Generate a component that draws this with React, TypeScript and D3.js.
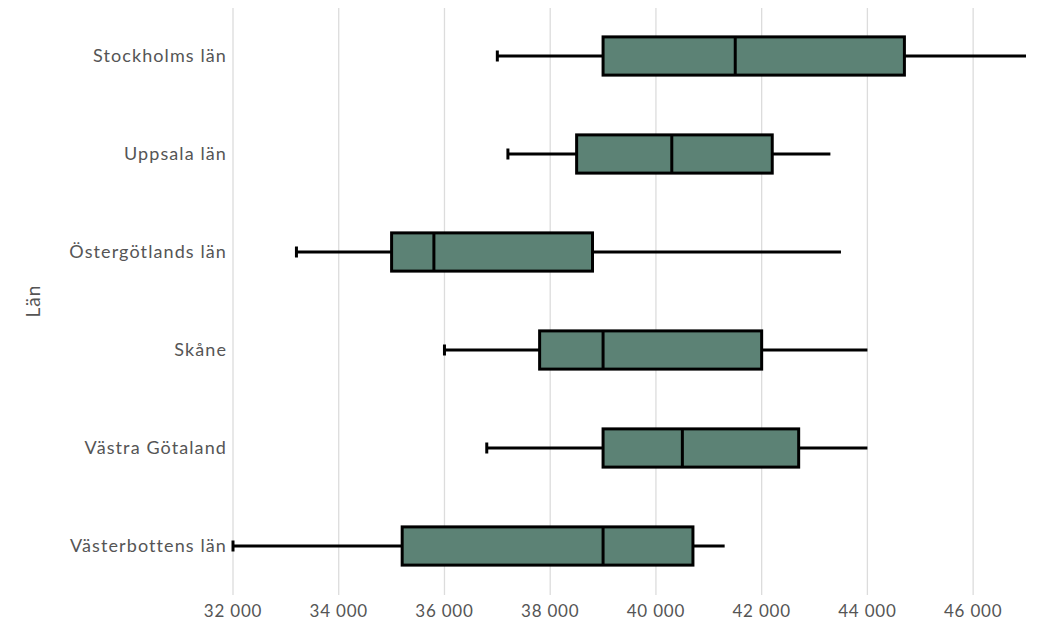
import React from "react";
import * as d3 from "d3";

const categories = ["Stockholms län", "Uppsala län", "Östergötlands län", "Skåne", "Västra Götaland", "Västerbottens län"];
const whiskerLow = [37000, 37200, 33200, 36000, 36800, 32000];
const q1 = [39000, 38500, 35000, 37800, 39000, 35200];
const median = [41500, 40300, 35800, 39000, 40500, 39000];
const q3 = [44700, 42200, 38800, 42000, 42700, 40700];
const whiskerHigh = [47000, 43300, 43500, 44000, 44000, 41300];
const xTicks = [32000, 34000, 36000, 38000, 40000, 42000, 44000, 46000];
const yTitle = "Län";

const W = 1046, H = 643;
const margin = { left: 233, right: 20, top: 7, bottom: 48 };
const FILL = "#5c8275";
const TEXT = "#555555";
const FONT = "Lato, 'Open Sans', sans-serif";

const locale = d3.formatLocale({ decimal: ",", thousands: " ", grouping: [3], currency: ["", ""] });
const fmt = locale.format(",d");

export default function App() {
  const x = d3.scaleLinear().domain([32000, 47000]).range([233, 1026]);
  const y = d3.scaleBand<string>().domain(categories).range([margin.top, H - margin.bottom]).paddingInner(0.61).paddingOuter(0.305);
  const bw = y.bandwidth();
  const gridBottom = 595;
  return (
    <svg width={W} height={H} style={{ position: "absolute", left: 0, top: 0, background: "#fff" }} fontFamily={FONT}>
      {xTicks.map((t) => (
        <g key={t}>
          <line x1={x(t)} x2={x(t)} y1={8} y2={gridBottom} stroke="#dcdcdc" strokeWidth={1.3} />
          <text x={x(t)} y={617} textAnchor="middle" fontSize={17} letterSpacing={0.8} fill={TEXT}>{fmt(t)}</text>
        </g>
      ))}
      {categories.map((c, i) => {
        const top = y(c)!;
        const cy = top + bw / 2;
        return (
          <g key={c}>
            <text x={227} y={cy} dy="0.35em" textAnchor="end" fontSize={18} letterSpacing={1.1} fill={TEXT}>{c}</text>
            <line x1={x(whiskerLow[i])} x2={x(q1[i])} y1={cy} y2={cy} stroke="#000" strokeWidth={2.8} />
            <line x1={x(q3[i])} x2={x(whiskerHigh[i])} y1={cy} y2={cy} stroke="#000" strokeWidth={2.8} />
            <line x1={x(whiskerLow[i])} x2={x(whiskerLow[i])} y1={cy - 5.5} y2={cy + 5.5} stroke="#000" strokeWidth={3} />
            <rect x={x(q1[i])} y={top} width={x(q3[i]) - x(q1[i])} height={bw} fill={FILL} stroke="#000" strokeWidth={3} />
            <line x1={x(median[i])} x2={x(median[i])} y1={top} y2={top + bw} stroke="#000" strokeWidth={3} />
          </g>
        );
      })}
      <text transform={`translate(40,${(margin.top + gridBottom) / 2}) rotate(-90)`} textAnchor="middle" fontSize={19} letterSpacing={1} fill={TEXT}>{yTitle}</text>
    </svg>
  );
}
